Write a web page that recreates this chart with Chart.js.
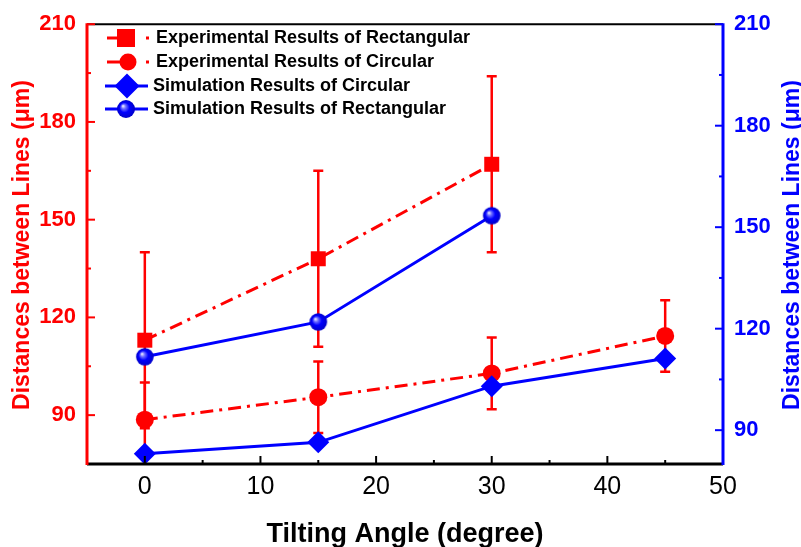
<!DOCTYPE html>
<html><head><meta charset="utf-8">
<script src="https://cdn.jsdelivr.net/npm/chart.js@4/dist/chart.umd.min.js"></script>
<style>html,body{margin:0;padding:0;background:#fff}</style>
</head><body>
<canvas id="c" width="801" height="547"></canvas>
<script>
// ---- data ----
const expRectAngles = [0, 15, 30];
const expRect = [113, 138, 167];
const expRectErr = [27, 27, 27];
const expCircAngles = [0, 15, 30, 45];
const expCirc = [88.6, 95.5, 102.8, 114.3];
const expCircErr = [11.4, 11, 11, 11];
const simCircAngles = [0, 15, 30, 45];
const simCirc = [83, 86.4, 103, 111.2];
const simRectAngles = [0, 15, 30];
const simRect = [111.7, 122, 153.4];
const xTicks = [0, 10, 20, 30, 40, 50];
const xMinorTicks = [5, 15, 25, 35, 45];
const yTicks = [90, 120, 150, 180, 210];
const yMinorTicks = [105, 135, 165, 195];
const seriesNames = ['Experimental Results of Rectangular', 'Experimental Results of Circular', 'Simulation Results of Circular', 'Simulation Results of Rectangular'];
const xTitle = 'Tilting Angle (degree)';
const yTitle = 'Distances between Lines (\u03bcm)';

const FONT = '"Liberation Sans", Arial, Helvetica, sans-serif';
const RED = '#ff0000', BLUE = '#0000ff';

function makeBall(r) {
  const s = Math.ceil(2 * r + 2);
  const c = document.createElement('canvas');
  c.width = c.height = s;
  const g = c.getContext('2d');
  const cx = s / 2;
  const grad = g.createRadialGradient(cx - r * 0.35, cx - r * 0.35, 0, cx, cx, r);
  grad.addColorStop(0, '#ffffff');
  grad.addColorStop(0.25, '#7070ff');
  grad.addColorStop(0.55, '#0000ff');
  grad.addColorStop(1, '#0000c8');
  g.fillStyle = grad;
  g.beginPath(); g.arc(cx, cx, r, 0, Math.PI * 2); g.fill();
  return c;
}
const ball = makeBall(8.8);
const ballLegend = makeBall(9);

const pts = (xs, ys) => xs.map((x, i) => ({ x: x, y: ys[i] }));

const errorBars = [
  { xs: expRectAngles, ys: expRect, err: expRectErr },
  { xs: expCircAngles, ys: expCirc, err: expCircErr }
];

const customPlugin = {
  id: 'custom',
  beforeDatasetsDraw(chart) {
    const ctx = chart.ctx, x = chart.scales.x, y = chart.scales.y;
    ctx.save();
    ctx.strokeStyle = RED; ctx.lineWidth = 2.5;
    errorBars.forEach(e => {
      e.xs.forEach((xv, i) => {
        const px = x.getPixelForValue(xv);
        const top = y.getPixelForValue(e.ys[i] + e.err[i]);
        const bot = y.getPixelForValue(e.ys[i] - e.err[i]);
        ctx.beginPath();
        ctx.moveTo(px, top); ctx.lineTo(px, bot);
        ctx.moveTo(px - 5, top); ctx.lineTo(px + 5, top);
        ctx.moveTo(px - 5, bot); ctx.lineTo(px + 5, bot);
        ctx.stroke();
      });
    });
    ctx.restore();
  },
  afterDatasetsDraw(chart) {
    const ctx = chart.ctx, a = chart.chartArea;
    const x = chart.scales.x, y = chart.scales.y, y2 = chart.scales.y2;
    ctx.save();
    // top border
    ctx.strokeStyle = '#000'; ctx.lineWidth = 2;
    ctx.beginPath(); ctx.moveTo(a.left, a.top); ctx.lineTo(a.right, a.top); ctx.stroke();
    // bottom axis
    ctx.lineWidth = 3;
    ctx.beginPath(); ctx.moveTo(a.left, a.bottom); ctx.lineTo(a.right, a.bottom); ctx.stroke();
    ctx.lineWidth = 2;
    xTicks.forEach(v => { const p = x.getPixelForValue(v); ctx.beginPath(); ctx.moveTo(p, a.bottom); ctx.lineTo(p, a.bottom - 8); ctx.stroke(); });
    xMinorTicks.forEach(v => { const p = x.getPixelForValue(v); ctx.beginPath(); ctx.moveTo(p, a.bottom); ctx.lineTo(p, a.bottom - 4); ctx.stroke(); });
    // left axis
    ctx.strokeStyle = RED; ctx.lineWidth = 3;
    ctx.beginPath(); ctx.moveTo(a.left, a.top - 1); ctx.lineTo(a.left, a.bottom + 1); ctx.stroke();
    ctx.lineWidth = 2;
    yTicks.forEach(v => { const p = y.getPixelForValue(v); ctx.beginPath(); ctx.moveTo(a.left, p); ctx.lineTo(a.left + 8, p); ctx.stroke(); });
    yMinorTicks.forEach(v => { const p = y.getPixelForValue(v); ctx.beginPath(); ctx.moveTo(a.left, p); ctx.lineTo(a.left + 4, p); ctx.stroke(); });
    // right axis
    ctx.strokeStyle = BLUE; ctx.lineWidth = 3;
    ctx.beginPath(); ctx.moveTo(a.right, a.top - 1); ctx.lineTo(a.right, a.bottom + 1); ctx.stroke();
    ctx.lineWidth = 2;
    yTicks.forEach(v => { const p = y2.getPixelForValue(v); ctx.beginPath(); ctx.moveTo(a.right, p); ctx.lineTo(a.right - 8, p); ctx.stroke(); });
    yMinorTicks.forEach(v => { const p = y2.getPixelForValue(v); ctx.beginPath(); ctx.moveTo(a.right, p); ctx.lineTo(a.right - 4, p); ctx.stroke(); });

    // axis titles
    ctx.font = 'bold 23px ' + FONT;
    ctx.textAlign = 'center'; ctx.textBaseline = 'alphabetic';
    ctx.fillStyle = RED;
    ctx.save(); ctx.translate(29, 245); ctx.rotate(-Math.PI / 2); ctx.fillText(yTitle, 0, 0); ctx.restore();
    ctx.fillStyle = BLUE;
    ctx.save(); ctx.translate(799, 245); ctx.rotate(-Math.PI / 2); ctx.fillText(yTitle, 0, 0); ctx.restore();
    ctx.fillStyle = '#000';
    ctx.font = 'bold 27px ' + FONT;
    ctx.fillText(xTitle, (a.left + a.right) / 2, 542);

    // legend
    const rows = [38, 62, 86, 109];
    ctx.font = 'bold 18px ' + FONT;
    ctx.textAlign = 'left'; ctx.textBaseline = 'middle';
    // row 1
    ctx.strokeStyle = RED; ctx.fillStyle = RED; ctx.lineWidth = 3;
    ctx.beginPath(); ctx.moveTo(107, rows[0]); ctx.lineTo(126, rows[0]); ctx.stroke();
    ctx.fillRect(117, rows[0] - 9, 18, 18);
    ctx.fillRect(146, rows[0] - 1.5, 3, 3);
    // row 2
    ctx.beginPath(); ctx.moveTo(107, rows[1]); ctx.lineTo(128, rows[1]); ctx.stroke();
    ctx.beginPath(); ctx.arc(128, rows[1], 8.5, 0, Math.PI * 2); ctx.fill();
    ctx.fillRect(146, rows[1] - 1.5, 3, 3);
    // row 3
    ctx.strokeStyle = BLUE; ctx.fillStyle = BLUE;
    ctx.beginPath(); ctx.moveTo(105, rows[2]); ctx.lineTo(148, rows[2]); ctx.stroke();
    ctx.beginPath(); ctx.moveTo(127 - 12.5, rows[2]); ctx.lineTo(127, rows[2] - 12.5); ctx.lineTo(127 + 12.5, rows[2]); ctx.lineTo(127, rows[2] + 12.5); ctx.closePath(); ctx.fill();
    // row 4
    ctx.beginPath(); ctx.moveTo(105, rows[3]); ctx.lineTo(148, rows[3]); ctx.stroke();
    ctx.drawImage(ballLegend, 126 - ballLegend.width / 2, rows[3] - ballLegend.height / 2);
    ctx.fillStyle = '#000';
    ctx.fillText(seriesNames[0], 156, rows[0]);
    ctx.fillText(seriesNames[1], 156, rows[1]);
    ctx.fillText(seriesNames[2], 153, rows[2]);
    ctx.fillText(seriesNames[3], 153, rows[3]);
    ctx.restore();
  }
};

new Chart(document.getElementById('c'), {
  type: 'line',
  data: {
    datasets: [
      { label: seriesNames[0], data: pts(expRectAngles, expRect), yAxisID: 'y', order: 2,
        borderColor: RED, backgroundColor: RED, borderWidth: 3, borderDash: [13, 6, 3, 6],
        pointStyle: 'rect', pointRadius: 10.6, pointBorderWidth: 0, clip: false },
      { label: seriesNames[1], data: pts(expCircAngles, expCirc), yAxisID: 'y', order: 2,
        borderColor: RED, backgroundColor: RED, borderWidth: 3, borderDash: [13, 6, 3, 6],
        pointStyle: 'circle', pointRadius: 9, pointBorderWidth: 0, clip: false },
      { label: seriesNames[2], data: pts(simCircAngles, simCirc), yAxisID: 'y2', order: 1,
        borderColor: BLUE, backgroundColor: BLUE, borderWidth: 3,
        pointStyle: 'rectRot', pointRadius: 11, pointBorderWidth: 0, clip: false },
      { label: seriesNames[3], data: pts(simRectAngles, simRect), yAxisID: 'y2', order: 1,
        borderColor: BLUE, backgroundColor: BLUE, borderWidth: 3,
        pointStyle: ball, pointRadius: 9, pointBorderWidth: 0, clip: false }
    ]
  },
  options: {
    responsive: false,
    animation: false,
    events: [],
    layout: { padding: { top: 18, left: 0, right: 0, bottom: 0 } },
    plugins: { legend: { display: false }, tooltip: { enabled: false } },
    scales: {
      x: {
        type: 'linear', min: -5, max: 50,
        afterBuildTicks: s => { s.ticks = xTicks.map(v => ({ value: v })); },
        afterFit: s => { s.height = 83; },
        grid: { display: false, drawTicks: false }, border: { display: false },
        ticks: { color: '#000', font: { family: FONT, size: 25 }, padding: 8, maxRotation: 0, autoSkip: false }
      },
      y: {
        type: 'linear', position: 'left', min: 75, max: 210,
        afterBuildTicks: s => { s.ticks = yTicks.map(v => ({ value: v })); },
        afterFit: s => { s.width = 87; },
        grid: { display: false, drawTicks: false }, border: { display: false },
        ticks: { color: RED, font: { family: FONT, size: 22, weight: 'bold' }, padding: 11, autoSkip: false }
      },
      y2: {
        type: 'linear', position: 'right', min: 80, max: 210,
        afterBuildTicks: s => { s.ticks = yTicks.map(v => ({ value: v })); },
        afterFit: s => { s.width = 78; },
        grid: { display: false, drawTicks: false }, border: { display: false },
        ticks: { color: BLUE, font: { family: FONT, size: 22, weight: 'bold' }, padding: 11, autoSkip: false }
      }
    }
  },
  plugins: [customPlugin]
});
</script>
</body></html>
